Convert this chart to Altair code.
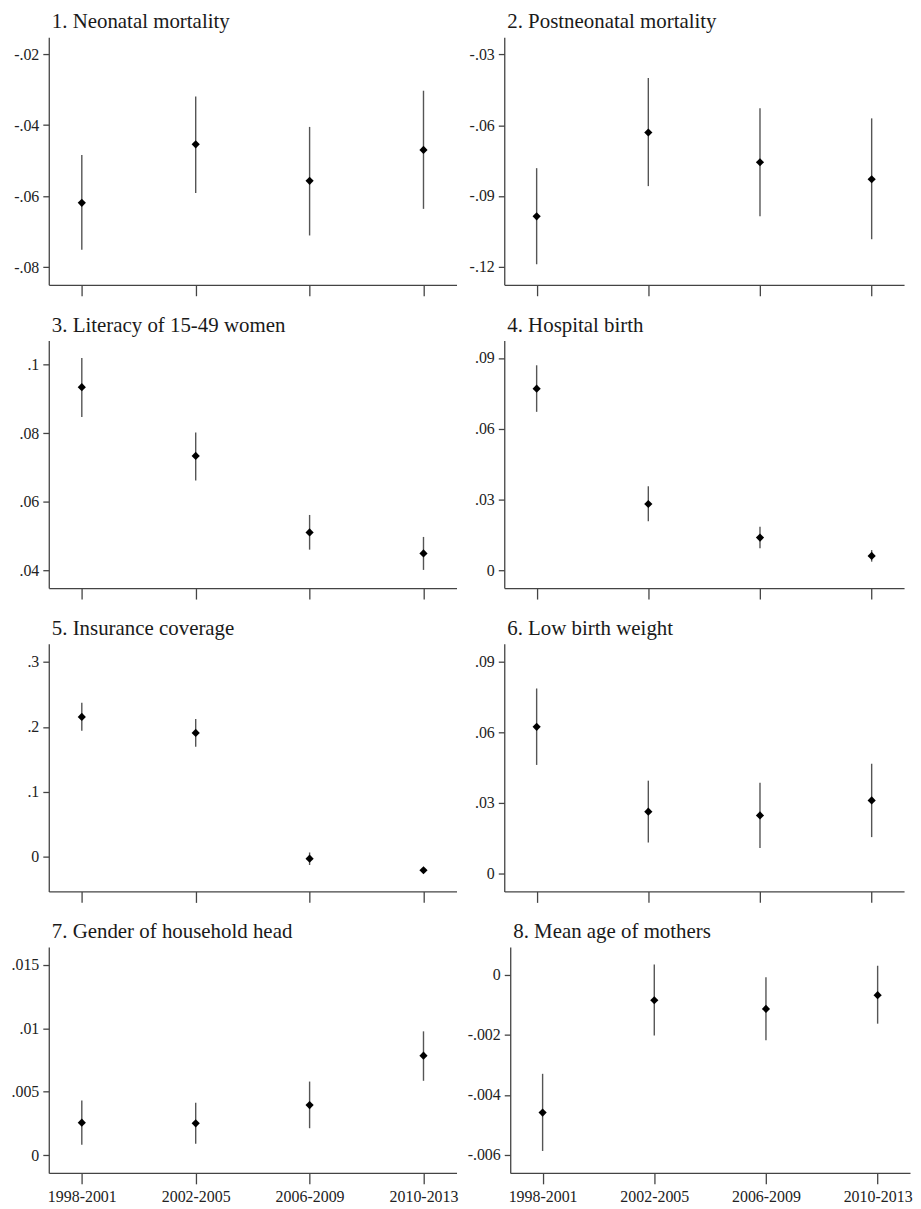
import altair as alt
import pandas as pd

periods = ["1998-2001", "2002-2005", "2006-2009", "2010-2013"]

titles = [
    "1. Neonatal mortality",
    "2. Postneonatal mortality",
    "3. Literacy of 15-49 women",
    "4. Hospital birth",
    "5. Insurance coverage",
    "6. Low birth weight",
    "7. Gender of household head",
    "8. Mean age of mothers",
]

neonatal_est = [-0.0619, -0.0454, -0.0557, -0.0470]
neonatal_lo = [-0.0751, -0.0591, -0.0711, -0.0636]
neonatal_hi = [-0.0484, -0.0319, -0.0405, -0.0303]

postneonatal_est = [-0.0986, -0.0631, -0.0757, -0.0829]
postneonatal_lo = [-0.1189, -0.0858, -0.0986, -0.1083]
postneonatal_hi = [-0.0782, -0.0400, -0.0528, -0.0571]

literacy_est = [0.0934, 0.0734, 0.0511, 0.0450]
literacy_lo = [0.0847, 0.0662, 0.0461, 0.0402]
literacy_hi = [0.1019, 0.0802, 0.0562, 0.0498]

hospital_est = [0.0770, 0.0282, 0.0140, 0.0062]
hospital_lo = [0.0672, 0.0209, 0.0095, 0.0038]
hospital_hi = [0.0869, 0.0357, 0.0186, 0.0087]

insurance_est = [0.2153, 0.1908, -0.0030, -0.0208]
insurance_lo = [0.1939, 0.1694, -0.0127, -0.0244]
insurance_hi = [0.2372, 0.2122, 0.0066, -0.0178]

lbw_est = [0.0624, 0.0263, 0.0247, 0.0311]
lbw_lo = [0.0462, 0.0132, 0.0109, 0.0155]
lbw_hi = [0.0787, 0.0395, 0.0386, 0.0467]

gender_est = [0.00256, 0.00251, 0.00395, 0.00784]
gender_lo = [0.00081, 0.00089, 0.00212, 0.00586]
gender_hi = [0.00431, 0.00413, 0.00580, 0.00976]

age_est = [-0.00459, -0.00085, -0.00114, -0.00068]
age_lo = [-0.00587, -0.00202, -0.00218, -0.00163]
age_hi = [-0.00330, 0.00034, -0.00008, 0.00030]

y_ticks = [
    [-0.08, -0.06, -0.04, -0.02],
    [-0.12, -0.09, -0.06, -0.03],
    [0.04, 0.06, 0.08, 0.1],
    [0, 0.03, 0.06, 0.09],
    [0, 0.1, 0.2, 0.3],
    [0, 0.03, 0.06, 0.09],
    [0, 0.005, 0.01, 0.015],
    [-0.006, -0.004, -0.002, 0],
]
y_domains = [
    [-0.085, -0.0152],
    [-0.1276, -0.0227],
    [0.0349, 0.107],
    [-0.0074, 0.0974],
    [-0.0534, 0.328],
    [-0.0076, 0.0977],
    [-0.0014, 0.0164],
    [-0.0066, 0.00092],
]

series = [
    (neonatal_est, neonatal_lo, neonatal_hi),
    (postneonatal_est, postneonatal_lo, postneonatal_hi),
    (literacy_est, literacy_lo, literacy_hi),
    (hospital_est, hospital_lo, hospital_hi),
    (insurance_est, insurance_lo, insurance_hi),
    (lbw_est, lbw_lo, lbw_hi),
    (gender_est, gender_lo, gender_hi),
    (age_est, age_lo, age_hi),
]

FONT = "Liberation Serif"
LABEL_EXPR = (
    "replace(replace(format(datum.value, '.3~f'), '\u2212', '-'), '0.', '.')"
)


def panel(i, width, height, bottom, extent):
    est, lo, hi = series[i]
    df = pd.DataFrame({"period": periods, "est": est, "lo": lo, "hi": hi})
    xenc = alt.X(
        "period:N",
        sort=periods,
        title=None,
        scale=alt.Scale(type="point", padding=0.29),
        axis=alt.Axis(
            labels=bottom,
            labelAngle=0,
            ticks=True,
            tickSize=11,
            labelPadding=5,
            domain=True,
        ),
    )
    yscale = alt.Scale(domain=y_domains[i], zero=False, nice=False)
    yaxis = alt.Axis(
        values=y_ticks[i],
        labelExpr=LABEL_EXPR,
        tickSize=6,
        labelPadding=4,
        minExtent=extent,
        maxExtent=extent,
    )
    base = alt.Chart(df)
    rules = base.mark_rule(color="#555555", strokeWidth=1.4).encode(
        x=xenc,
        y=alt.Y("lo:Q", scale=yscale, axis=yaxis, title=None),
        y2="hi:Q",
    )
    pts = base.mark_point(
        shape="diamond", filled=True, color="#000000", size=68, opacity=1
    ).encode(
        x=xenc,
        y=alt.Y("est:Q", scale=yscale, axis=yaxis, title=None),
    )
    return alt.layer(rules, pts).properties(
        width=width,
        height=height,
        title=alt.TitleParams(
            text=titles[i],
            anchor="start",
            frame="group",
            font=FONT,
            fontSize=21,
            fontWeight="normal",
            color="#1a1a1a",
            offset=5,
            dx=3,
        ),
    )


rows = []
heights = [249, 249, 249, 227]
for r in range(4):
    left = panel(2 * r, 410, heights[r], r == 3, 41)
    right = panel(2 * r + 1, 402, heights[r], r == 3, 40)
    rows.append(alt.hconcat(left, right, spacing=8))

chart = (
    alt.vconcat(*rows, spacing=18)
    .properties(padding={"left": 0, "top": 0, "right": 0, "bottom": 0})
    .configure_view(stroke=None)
    .configure_axis(
        grid=False,
        domainColor="#444444",
        tickColor="#444444",
        domainWidth=1.3,
        tickWidth=1.3,
        labelFont=FONT,
        labelFontSize=16,
        labelColor="#222222",
    )
    .configure_title(font=FONT)
)

chart.save("out.html", embed_options={"renderer": "svg", "actions": False})
